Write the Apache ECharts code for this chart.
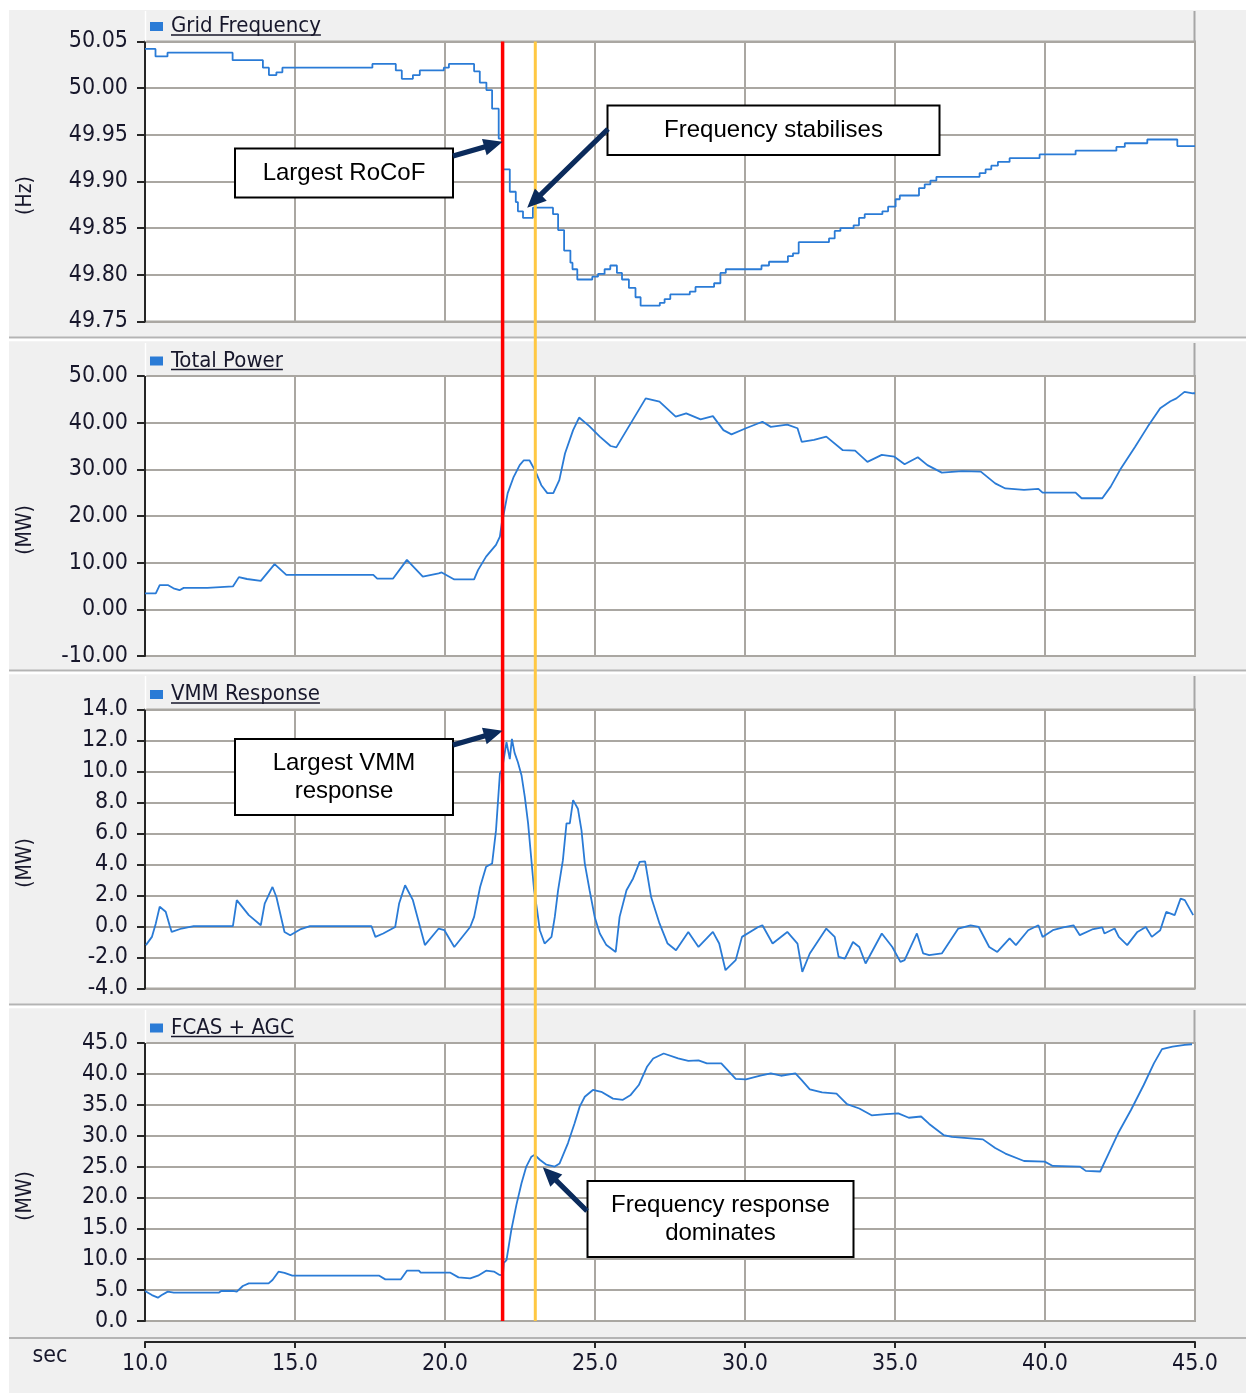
<!DOCTYPE html>
<html>
<head>
<meta charset="utf-8">
<script src="https://cdn.jsdelivr.net/npm/echarts/dist/echarts.min.js"></script>
<style>
  html, body { margin: 0; padding: 0; background: #ffffff; }
  #chart { width: 1246px; height: 1396px; }
</style>
</head>
<body>
<div id="chart"></div>
<script>
// ---- recorded traces: [time (s), value] ----
// grid frequency is logged as held values, each one valid until the next time stamp
const gridFrequency = [
  [10.00, 50.042], [10.35, 50.034], [10.75, 50.038], [12.92, 50.030], [13.93, 50.022],
  [14.13, 50.014], [14.38, 50.017], [14.58, 50.022], [17.58, 50.026], [18.36, 50.019],
  [18.56, 50.010], [18.93, 50.014], [19.16, 50.019], [19.96, 50.022], [20.13, 50.026],
  [20.97, 50.018], [21.16, 50.006], [21.38, 49.998], [21.57, 49.978], [21.79, 49.946],
  [21.92, 49.913], [22.16, 49.889], [22.36, 49.878], [22.43, 49.868], [22.60, 49.861],
  [22.93, 49.872], [23.60, 49.865], [23.77, 49.848], [23.97, 49.826], [24.18, 49.813],
  [24.25, 49.806], [24.41, 49.795], [24.91, 49.798], [25.10, 49.801], [25.32, 49.806],
  [25.51, 49.810], [25.73, 49.802], [25.90, 49.795], [26.13, 49.786], [26.35, 49.776],
  [26.52, 49.767], [27.16, 49.770], [27.32, 49.774], [27.51, 49.779], [28.16, 49.782],
  [28.35, 49.787], [28.97, 49.791], [29.18, 49.802], [29.36, 49.806], [30.55, 49.810],
  [30.80, 49.814], [31.43, 49.820], [31.60, 49.823], [31.79, 49.835], [32.80, 49.839],
  [32.99, 49.847], [33.18, 49.850], [33.62, 49.853], [33.80, 49.861], [33.99, 49.865],
  [34.58, 49.868], [34.77, 49.873], [35.02, 49.881], [35.16, 49.885], [35.80, 49.893],
  [35.99, 49.897], [36.18, 49.901], [36.38, 49.905], [37.82, 49.909], [38.02, 49.913],
  [38.21, 49.917], [38.43, 49.921], [38.82, 49.925], [39.82, 49.929], [41.02, 49.933],
  [42.38, 49.937], [42.66, 49.941], [43.41, 49.945], [44.41, 49.938], [45.00, 49.938]
];

const totalPower = [
  [10.00, 3.4], [10.36, 3.4], [10.49, 5.2], [10.76, 5.2], [10.95, 4.5], [11.15, 4.1],
  [11.29, 4.6], [12.08, 4.6], [12.10, 4.9], [12.93, 4.9], [13.13, 6.9], [13.40, 6.5],
  [13.86, 6.1], [14.32, 9.7], [14.71, 7.4], [17.61, 7.4], [17.74, 6.6], [18.27, 6.6],
  [18.73, 10.6], [19.26, 7.0], [19.79, 7.7], [19.89, 7.9], [20.31, 6.4], [20.97, 6.4],
  [21.10, 8.4], [21.37, 11.3], [21.70, 13.8], [21.83, 15.6], [21.90, 18.8], [21.95, 20.2],
  [22.09, 24.9], [22.29, 28.4], [22.49, 30.9], [22.62, 31.9], [22.82, 31.9], [23.02, 29.5],
  [23.21, 26.6], [23.41, 24.9], [23.61, 24.9], [23.81, 27.7], [24.00, 33.4], [24.27, 38.4],
  [24.47, 41.1], [24.80, 39.3], [25.16, 37.0], [25.52, 35.0], [25.71, 34.7], [26.26, 40.6],
  [26.69, 45.2], [27.15, 44.5], [27.69, 41.3], [28.04, 42.0], [28.52, 40.7], [28.93, 41.4],
  [29.28, 38.4], [29.55, 37.5], [30.03, 38.8], [30.58, 40.2], [30.86, 39.1], [31.41, 39.6],
  [31.75, 38.8], [31.89, 35.9], [32.30, 36.3], [32.71, 37.0], [33.26, 34.1], [33.67, 34.0],
  [34.08, 31.6], [34.56, 33.1], [34.98, 32.7], [35.32, 31.1], [35.76, 32.6], [36.08, 30.9],
  [36.56, 29.3], [37.24, 29.6], [37.86, 29.5], [38.34, 27.0], [38.68, 25.9], [39.30, 25.6],
  [39.78, 25.8], [39.92, 25.0], [41.02, 25.0], [41.22, 23.8], [41.91, 23.8], [42.19, 26.3],
  [42.53, 30.2], [43.01, 34.9], [43.42, 39.1], [43.84, 43.1], [44.18, 44.6], [44.38, 45.2],
  [44.65, 46.6], [44.93, 46.3], [45.00, 46.3]
];

const vmmResponse = [
  [10.03, -1.20], [10.23, -0.67], [10.36, 0.20], [10.49, 1.27], [10.69, 0.95], [10.82, 0.08],
  [10.89, -0.35], [11.22, -0.13], [11.62, 0.02], [12.93, 0.02], [13.06, 1.70], [13.46, 0.73],
  [13.86, 0.08], [13.99, 1.48], [14.25, 2.55], [14.38, 1.90], [14.65, -0.35], [14.84, -0.56],
  [15.17, -0.19], [15.50, 0.02], [17.55, 0.02], [17.68, -0.67], [17.94, -0.45], [18.34, -0.03],
  [18.47, 1.48], [18.67, 2.66], [18.93, 1.70], [19.33, -1.20], [19.79, -0.13], [19.98, -0.24],
  [20.31, -1.32], [20.84, -0.03], [20.97, 0.62], [21.17, 2.55], [21.37, 3.85], [21.57, 4.06],
  [21.70, 6.20], [21.83, 9.87], [21.90, 10.10], [22.05, 11.90], [22.16, 10.80], [22.23, 12.10],
  [22.32, 11.20], [22.43, 10.60], [22.55, 9.76], [22.66, 8.36], [22.77, 6.65], [22.91, 3.63],
  [22.97, 2.34], [23.07, 1.05], [23.16, -0.24], [23.32, -1.10], [23.55, -0.67], [23.66, 0.62],
  [23.77, 2.34], [23.93, 4.28], [24.05, 6.65], [24.16, 6.65], [24.27, 8.15], [24.43, 7.60],
  [24.55, 6.20], [24.66, 4.06], [24.82, 2.34], [24.99, 0.62], [25.16, -0.45], [25.38, -1.20],
  [25.69, -1.64], [25.82, 0.62], [26.05, 2.34], [26.27, 3.10], [26.49, 4.17], [26.67, 4.20],
  [26.87, 1.90], [27.15, 0.20], [27.42, -1.10], [27.70, -1.53], [28.11, -0.35], [28.45, -1.32],
  [28.93, -0.35], [29.14, -1.10], [29.35, -2.82], [29.69, -2.17], [29.90, -0.67], [30.44, -0.03],
  [30.58, 0.08], [30.92, -1.10], [31.41, -0.35], [31.75, -1.10], [31.91, -2.93], [32.16, -1.74],
  [32.71, -0.13], [32.99, -0.67], [33.12, -1.96], [33.33, -2.07], [33.60, -1.00], [33.81, -1.32],
  [34.02, -2.39], [34.56, -0.45], [34.91, -1.32], [35.18, -2.28], [35.32, -2.17], [35.73, -0.45],
  [35.94, -1.74], [36.14, -1.85], [36.56, -1.74], [37.11, -0.13], [37.52, 0.08], [37.79, -0.03],
  [38.14, -1.32], [38.41, -1.64], [38.82, -0.77], [39.03, -1.20], [39.44, -0.24], [39.78, 0.08],
  [39.92, -0.67], [40.26, -0.24], [40.61, -0.06], [40.95, 0.08], [41.16, -0.56], [41.57, -0.19],
  [41.91, -0.06], [41.98, -0.45], [42.32, -0.13], [42.46, -0.67], [42.74, -1.20], [43.08, -0.35],
  [43.36, -0.03], [43.56, -0.67], [43.84, -0.24], [44.04, 0.94], [44.32, 0.73], [44.52, 1.80],
  [44.66, 1.70], [44.94, 0.73]
];

const fcasAgc = [
  [10.00, 4.86], [10.23, 4.20], [10.43, 3.78], [10.56, 4.20], [10.76, 4.75], [10.96, 4.60],
  [12.47, 4.60], [12.54, 4.86], [12.93, 4.86], [13.06, 4.75], [13.26, 5.67], [13.46, 6.10],
  [14.12, 6.10], [14.25, 6.64], [14.45, 7.98], [14.65, 7.80], [14.91, 7.33], [17.81, 7.33],
  [18.01, 6.74], [18.53, 6.74], [18.73, 8.15], [19.13, 8.15], [19.19, 7.82], [20.18, 7.82],
  [20.45, 7.06], [20.84, 6.90], [21.10, 7.33], [21.37, 8.15], [21.63, 8.00], [21.82, 7.45],
  [21.93, 7.40], [21.96, 9.40], [22.05, 9.87], [22.21, 14.70], [22.38, 18.80], [22.55, 22.30],
  [22.71, 25.00], [22.88, 26.60], [22.99, 26.90], [23.16, 26.10], [23.38, 25.30], [23.66, 25.00],
  [23.82, 25.50], [24.10, 28.80], [24.32, 32.00], [24.49, 34.70], [24.66, 36.30], [24.93, 37.40],
  [25.21, 37.10], [25.60, 36.00], [25.93, 35.80], [26.19, 36.60], [26.46, 38.20], [26.74, 41.20],
  [26.94, 42.50], [27.29, 43.30], [27.77, 42.50], [28.11, 42.10], [28.45, 42.20], [28.73, 41.70],
  [29.21, 41.70], [29.69, 39.20], [30.03, 39.10], [30.51, 39.70], [30.86, 40.10], [31.20, 39.70],
  [31.68, 40.10], [31.89, 39.00], [32.16, 37.50], [32.57, 37.00], [33.05, 36.80], [33.40, 35.10],
  [33.81, 34.40], [34.22, 33.30], [34.70, 33.50], [35.11, 33.60], [35.46, 32.90], [35.87, 33.10],
  [36.14, 31.90], [36.62, 30.10], [36.90, 29.80], [37.93, 29.40], [38.34, 28.00], [38.68, 27.10],
  [39.30, 25.90], [39.99, 25.80], [40.26, 25.10], [41.16, 25.00], [41.36, 24.30], [41.84, 24.20],
  [42.12, 27.10], [42.46, 30.60], [42.87, 34.20], [43.29, 38.20], [43.63, 41.70], [43.90, 44.00],
  [44.25, 44.40], [44.66, 44.70], [44.90, 44.80]
];

// event markers (s): largest rate of change of frequency, then frequency stabilising
const eventTimes = [21.92, 23.01];

// axis scales: [min, max, step]
const timeAxis = [10, 45, 5];
const freqAxis = [49.75, 50.05, 0.05];
const powerAxis = [-10, 50, 10];
const vmmAxis = [-4, 14, 2];
const fcasAxis = [0, 45, 5];

// callout targets, in each panel's own data units: [time, value]
const rocofTip = [21.92, 49.9425];
const stabiliseTip = [22.74, 49.8718];
const vmmTip = [21.92, 12.63];
const fcasTip = [23.26, 24.88];

// ---- look ----
const measure = document.createElement('canvas').getContext('2d');
function fontAvailable(name) {
  measure.font = '40px "' + name + '", monospace';
  const a = measure.measureText('50.05 Grid Frequency').width;
  measure.font = '40px monospace';
  const b = measure.measureText('50.05 Grid Frequency').width;
  return Math.abs(a - b) > 0.5;
}
const CONDENSED = fontAvailable('DejaVu Sans Condensed');
const UI_FONT = CONDENSED ? 'DejaVu Sans Condensed' : 'DejaVu Sans';
const TICK_SIZE = CONDENSED ? 23 : 21;
const LEGEND_SIZE = CONDENSED ? 22 : 20;
const UNIT_SIZE = CONDENSED ? 21 : 19;
const NOTE_FONT = 'Liberation Sans';
const INK = '#17172b';
const TRACE = '#2a7bd6';
const GRID_GRAY = '#aaa7a2';
const AXIS_DARK = '#262626';
const ARROW = '#0b2b5c';

const panels = [
  { name: 'Grid Frequency', unit: '(Hz)', data: gridFrequency, scale: freqAxis, digits: 2, top: 41.5, height: 280, headTop: 11, step: 'end' },
  { name: 'Total Power', unit: '(MW)', data: totalPower, scale: powerAxis, digits: 2, top: 376, height: 280, headTop: 343, step: false },
  { name: 'VMM Response', unit: '(MW)', data: vmmResponse, scale: vmmAxis, digits: 1, top: 709.5, height: 279, headTop: 676, step: false },
  { name: 'FCAS + AGC', unit: '(MW)', data: fcasAgc, scale: fcasAxis, digits: 1, top: 1043, height: 278, headTop: 1010, step: false }
];

const GRID_LEFT = 145, GRID_WIDTH = 1050;
const LAST = panels.length - 1;

const chart = echarts.init(document.getElementById('chart'), null, { renderer: 'canvas' });

chart.setOption({
  animation: false,
  backgroundColor: '#f0f0f0',
  grid: panels.map(p => ({
    left: GRID_LEFT, width: GRID_WIDTH, top: p.top, height: p.height,
    show: true, backgroundColor: '#ffffff', borderColor: GRID_GRAY, borderWidth: 2
  })),
  legend: panels.map(p => ({
    data: [p.name], left: 150, top: p.top - 27, padding: 0,
    icon: 'rect', itemWidth: 13, itemHeight: 9, selectedMode: false,
    textStyle: { fontFamily: UI_FONT, fontSize: LEGEND_SIZE, color: INK, lineHeight: 24, padding: [0, 0, 0, 3] }
  })),
  xAxis: panels.map((p, i) => ({
    type: 'value', gridIndex: i,
    min: timeAxis[0], max: timeAxis[1], interval: timeAxis[2],
    offset: i === LAST ? 21 : 0,
    axisLine: { show: i === LAST, onZero: false, lineStyle: { color: AXIS_DARK, width: 2 } },
    axisTick: { show: i === LAST, length: 6, lineStyle: { color: AXIS_DARK, width: 2 } },
    axisLabel: {
      show: i === LAST, margin: 11, fontFamily: UI_FONT, fontSize: TICK_SIZE, color: INK,
      formatter: v => v.toFixed(1)
    },
    splitLine: { show: true, lineStyle: { color: GRID_GRAY, width: 2 } }
  })),
  yAxis: panels.map((p, i) => ({
    type: 'value', gridIndex: i,
    min: p.scale[0], max: p.scale[1], interval: p.scale[2],
    axisLine: { show: true, onZero: false, lineStyle: { color: AXIS_DARK, width: 2 } },
    axisTick: { show: true, length: 8, lineStyle: { color: AXIS_DARK, width: 2 } },
    axisLabel: {
      margin: 17, fontFamily: UI_FONT, fontSize: TICK_SIZE, color: INK, padding: [4, 0, 0, 0],
      formatter: v => v.toFixed(p.digits)
    },
    splitLine: { show: true, lineStyle: { color: GRID_GRAY, width: 2 } }
  })),
  series: panels.map((p, i) => ({
    type: 'line', name: p.name, xAxisIndex: i, yAxisIndex: i,
    data: p.data, step: p.step, showSymbol: false, symbol: 'none',
    lineStyle: { color: TRACE, width: 1.8 }, itemStyle: { color: TRACE },
    emphasis: { disabled: true }, z: 3
  }))
});

// ---- overlay drawing ----
measure.font = LEGEND_SIZE + 'px "' + UI_FONT + '"';

function px(axisIdx, t, v) {
  return chart.convertToPixel({ xAxisIndex: axisIdx, yAxisIndex: axisIdx }, [t, v]);
}

function arrowPoints(x0, y0, x1, y1) {
  const dx = x1 - x0, dy = y1 - y0, len = Math.hypot(dx, dy);
  const ux = dx / len, uy = dy / len, nx = -uy, ny = ux;
  const head = 19, half = 8.5, shaft = 2.6;
  const bx = x1 - ux * head, by = y1 - uy * head;
  return [
    [x0 + nx * shaft, y0 + ny * shaft], [bx + nx * shaft, by + ny * shaft],
    [bx + nx * half, by + ny * half], [x1, y1],
    [bx - nx * half, by - ny * half], [bx - nx * shaft, by - ny * shaft],
    [x0 - nx * shaft, y0 - ny * shaft]
  ];
}

function callout(x, y, w, h, text) {
  return [
    { type: 'rect', z: 120, shape: { x: x, y: y, width: w, height: h },
      style: { fill: '#ffffff', stroke: '#000000', lineWidth: 2 } },
    { type: 'text', z: 121, x: x + w / 2, y: y + h / 2,
      style: { text: text, font: '24px "' + NOTE_FONT + '"', fill: '#000000',
               align: 'center', verticalAlign: 'middle', lineHeight: 28 } }
  ];
}

function arrow(from, tip) {
  return { type: 'polygon', z: 125, shape: { points: arrowPoints(from[0], from[1], tip[0], tip[1]) },
           style: { fill: ARROW } };
}

const g = [];

// white page margin around the instrument window
g.push({ type: 'rect', z: 1, shape: { x: 0, y: 0, width: 1246, height: 10 }, style: { fill: '#ffffff' } });
g.push({ type: 'rect', z: 1, shape: { x: 0, y: 0, width: 9, height: 1396 }, style: { fill: '#ffffff' } });
g.push({ type: 'rect', z: 1, shape: { x: 0, y: 1393, width: 1246, height: 3 }, style: { fill: '#ffffff' } });

// panel separators
[337.5, 670.5, 1004.5].forEach(y => {
  g.push({ type: 'line', z: 2, shape: { x1: 9, y1: y, x2: 1246, y2: y }, style: { stroke: '#b4b4b4', lineWidth: 2 } });
  g.push({ type: 'line', z: 2, shape: { x1: 9, y1: y + 2.5, x2: 1246, y2: y + 2.5 }, style: { stroke: '#ffffff', lineWidth: 2.5 } });
});
g.push({ type: 'line', z: 2, shape: { x1: 9, y1: 1338, x2: 1246, y2: 1338 }, style: { stroke: '#b4b4b4', lineWidth: 2 } });

panels.forEach((p, i) => {
  // legend header frame
  g.push({ type: 'line', z: 2, shape: { x1: 145.5, y1: p.headTop, x2: 145.5, y2: p.top }, style: { stroke: '#ffffff', lineWidth: 1.5 } });
  g.push({ type: 'line', z: 2, shape: { x1: 1194.5, y1: p.headTop, x2: 1194.5, y2: p.top }, style: { stroke: '#a6a6a6', lineWidth: 2 } });
  // underline for the legend label
  const textX = 150 + 13 + 5 + 3;
  const w = measure.measureText(p.name).width;
  g.push({ type: 'line', z: 110, shape: { x1: textX, y1: p.top - 6.5, x2: textX + w, y2: p.top - 6.5 },
           style: { stroke: INK, lineWidth: 1.5 } });
  // unit label
  g.push({ type: 'text', z: 110, x: 26, y: p.top + p.height / 2 + 14, rotation: Math.PI / 2,
           style: { text: p.unit, font: UNIT_SIZE + 'px "' + UI_FONT + '"', fill: INK, align: 'center', verticalAlign: 'middle' } });
});

g.push({ type: 'text', z: 110, x: 50, y: 1356,
         style: { text: 'sec', font: (UNIT_SIZE + 2) + 'px "' + UI_FONT + '"', fill: INK, align: 'center', verticalAlign: 'middle' } });

// event markers spanning all four panels
const yTop = px(0, timeAxis[0], freqAxis[1])[1];
const yBottom = px(LAST, timeAxis[0], fcasAxis[0])[1];
const eventColors = ['#ff0000', '#ffc843'];
const eventWidths = [3.5, 3];
eventTimes.forEach((t, k) => {
  const x = px(0, t, freqAxis[0])[0];
  g.push({ type: 'line', z: 100, shape: { x1: x, y1: yTop, x2: x, y2: yBottom },
           style: { stroke: eventColors[k], lineWidth: eventWidths[k] } });
});

// callouts
g.push(...callout(235, 148.5, 218, 49, 'Largest RoCoF'));
g.push(...callout(607.5, 105.5, 332, 49.5, 'Frequency stabilises'));
g.push(...callout(235, 739, 218, 76, 'Largest VMM\nresponse'));
g.push(...callout(587.5, 1181, 266, 76, 'Frequency response\ndominates'));

g.push(arrow([453, 156], px(0, rocofTip[0], rocofTip[1])));
g.push(arrow([608, 129], px(0, stabiliseTip[0], stabiliseTip[1])));
g.push(arrow([453, 745], px(2, vmmTip[0], vmmTip[1])));
g.push(arrow([587, 1211], px(3, fcasTip[0], fcasTip[1])));

chart.setOption({ graphic: g });
</script>
</body>
</html>
